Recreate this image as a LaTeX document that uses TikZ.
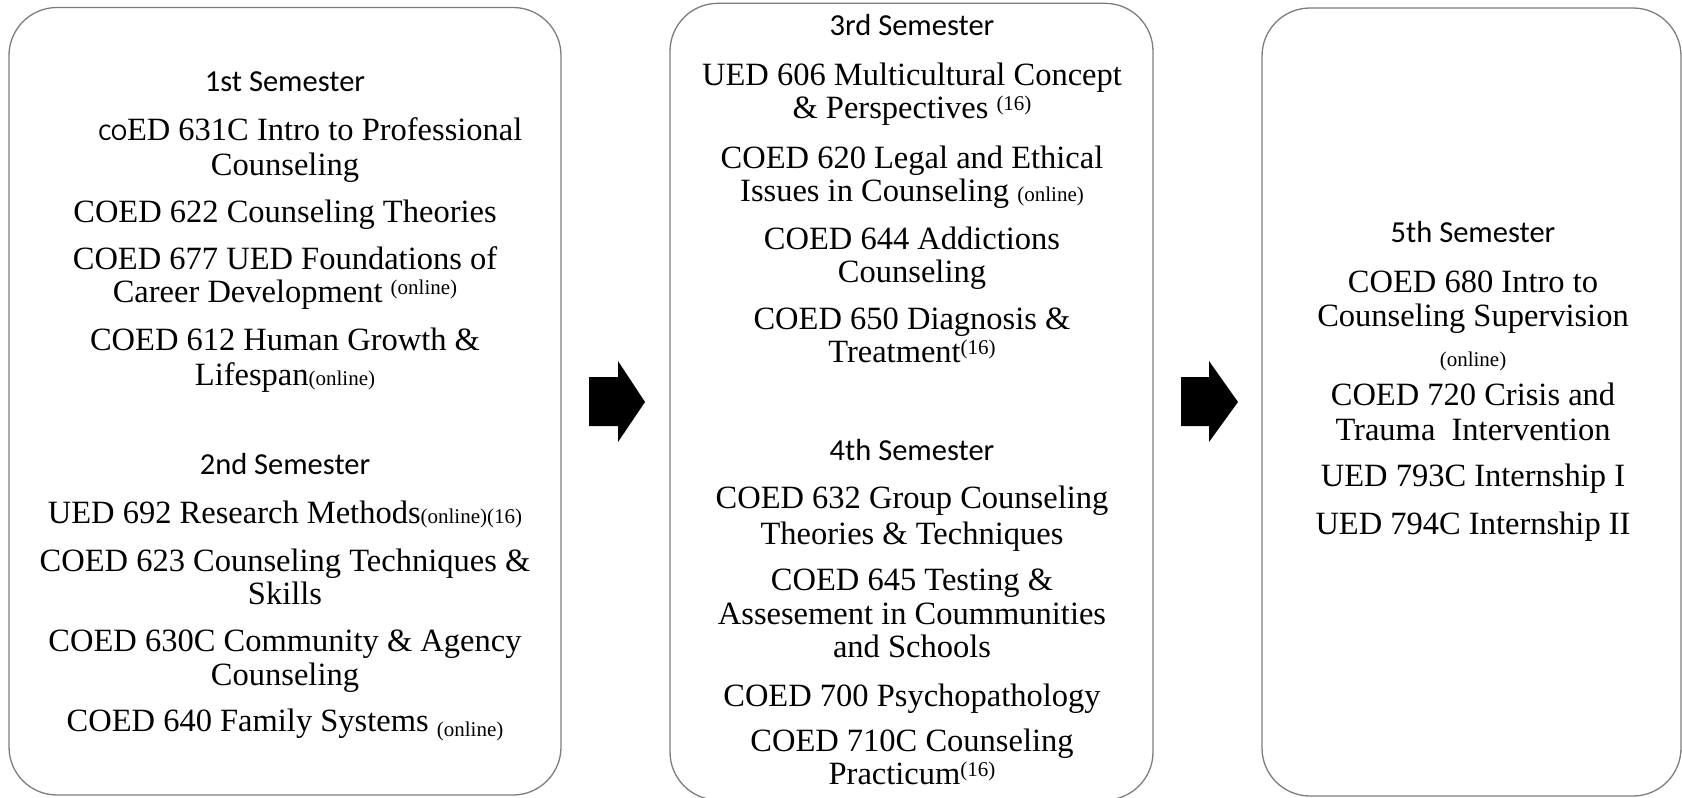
\documentclass[tikz,border=0pt]{standalone}
\usepackage{fontspec}
\setmainfont{Liberation Serif}
\newfontfamily\hdfam{Carlito}
\definecolor{boxgray}{RGB}{125,125,125}
\newcommand\crsfont{\fontsize{32.5}{34}\selectfont}
\newcommand\hdfont{\hdfam\fontsize{30.5}{32}\selectfont}
\newcommand\smallfont{\fontsize{21}{22}\selectfont}
\newcommand\upx[1]{\raisebox{8pt}{\smallfont #1}}
\newcommand\dnx[1]{\raisebox{-5pt}{\smallfont #1}}
\newcommand\onx[1]{{\smallfont #1}}
\tikzset{
  sembox/.style={draw=boxgray, line width=1.3pt, rounded corners=48pt},
  crs/.style={anchor=base, inner sep=0pt, font=\crsfont},
  hdr/.style={anchor=base, inner sep=0pt, font=\hdfont},
  blockarrow/.style={fill=black, draw=none}
}
\begin{document}
\begin{tikzpicture}[x=1pt, y=-1pt]
\useasboundingbox (0,0) rectangle (1682,798);
% boxes
\draw[sembox] (9,7.5) rectangle (561,795);
\draw[sembox] (670,3.3) rectangle (1153,800);
\draw[sembox] (1262,8) rectangle (1681,796);
% arrows
\fill[blockarrow] (589,377) -- (618,377) -- (618,361) -- (645,402) -- (618,442) -- (618,426) -- (589,426) -- cycle;
\fill[blockarrow] (1181,377) -- (1209,377) -- (1209,361) -- (1238,402) -- (1209,442) -- (1209,426) -- (1181,426) -- cycle;
% box 1
\node[hdr] (s1) at (285,91) {1st Semester};
\node[crs] (a1) at (310.5,140.5) {{\hdfam\fontsize{24}{24}\selectfont CO}ED 631C Intro to Professional};
\node[crs] (a1b) at (285,175) {Counseling};
\node[crs] (a2) at (285,222) {COED 622 Counseling Theories};
\node[crs] (a3) at (285,269) {COED 677 UED Foundations of};
\node[crs] (a3b) at (285,302.5) {Career Development \upx{(online)}};
\node[crs] (a4) at (285,350) {COED 612 Human Growth \&};
\node[crs] (a4b) at (285,385) {Lifespan\onx{(online)}};
\node[hdr] (s2) at (285,474) {2nd Semester};
\node[crs] (b1) at (285,523.5) {UED 692 Research Methods\onx{(online)(16)}};
\node[crs] (b2) at (285,571) {COED 623 Counseling Techniques \&};
\node[crs] (b2b) at (285,604) {Skills};
\node[crs] (b3) at (285,651) {COED 630C Community \& Agency};
\node[crs] (b3b) at (285,685.5) {Counseling};
\node[crs] (b4) at (285,731.6) {COED 640 Family Systems \dnx{(online)}};
% box 2
\node[hdr] (s3) at (912,35.4) {3rd Semester};
\node[crs] (c1) at (912,85.8) {UED 606 Multicultural Concept};
\node[crs] (c1b) at (912,118) {\& Perspectives \upx{(16)}};
\node[crs] (c2) at (912,168.4) {COED 620 Legal and Ethical};
\node[crs] (c2b) at (912,201.7) {Issues in Counseling \onx{(online)}};
\node[crs] (c3) at (912,249) {COED 644 Addictions};
\node[crs] (c3b) at (912,282) {Counseling};
\node[crs] (c4) at (912,329) {COED 650 Diagnosis \&};
\node[crs] (c4b) at (912,362.6) {Treatment\upx{(16)}};
\node[hdr] (s4) at (912,460) {4th Semester};
\node[crs] (d1) at (912,508.5) {COED 632 Group Counseling};
\node[crs] (d1b) at (912,544) {Theories \& Techniques};
\node[crs] (d2) at (912,590) {COED 645 Testing \&};
\node[crs] (d2b) at (912,624) {Assesement in Coummunities};
\node[crs] (d2c) at (912,657.6) {and Schools};
\node[crs] (d3) at (912,706) {COED 700 Psychopathology};
\node[crs] (d4) at (912,751) {COED 710C Counseling};
\node[crs] (d4b) at (912,784) {Practicum\upx{(16)}};
% box 3
\node[hdr] (s5) at (1473,242.4) {5th Semester};
\node[crs] (e1) at (1473,292) {COED 680 Intro to};
\node[crs] (e1b) at (1473,326) {Counseling Supervision};
\node[crs, font=\smallfont] (e1c) at (1473,366) {(online)};
\node[crs] (e2) at (1473,405.5) {COED 720 Crisis and};
\node[crs] (e2b) at (1473,440) {Trauma\ \ Intervention};
\node[crs] (e3) at (1473,486) {UED 793C Internship I};
\node[crs] (e4) at (1473,534) {UED 794C Internship II};
\end{tikzpicture}
\end{document}
